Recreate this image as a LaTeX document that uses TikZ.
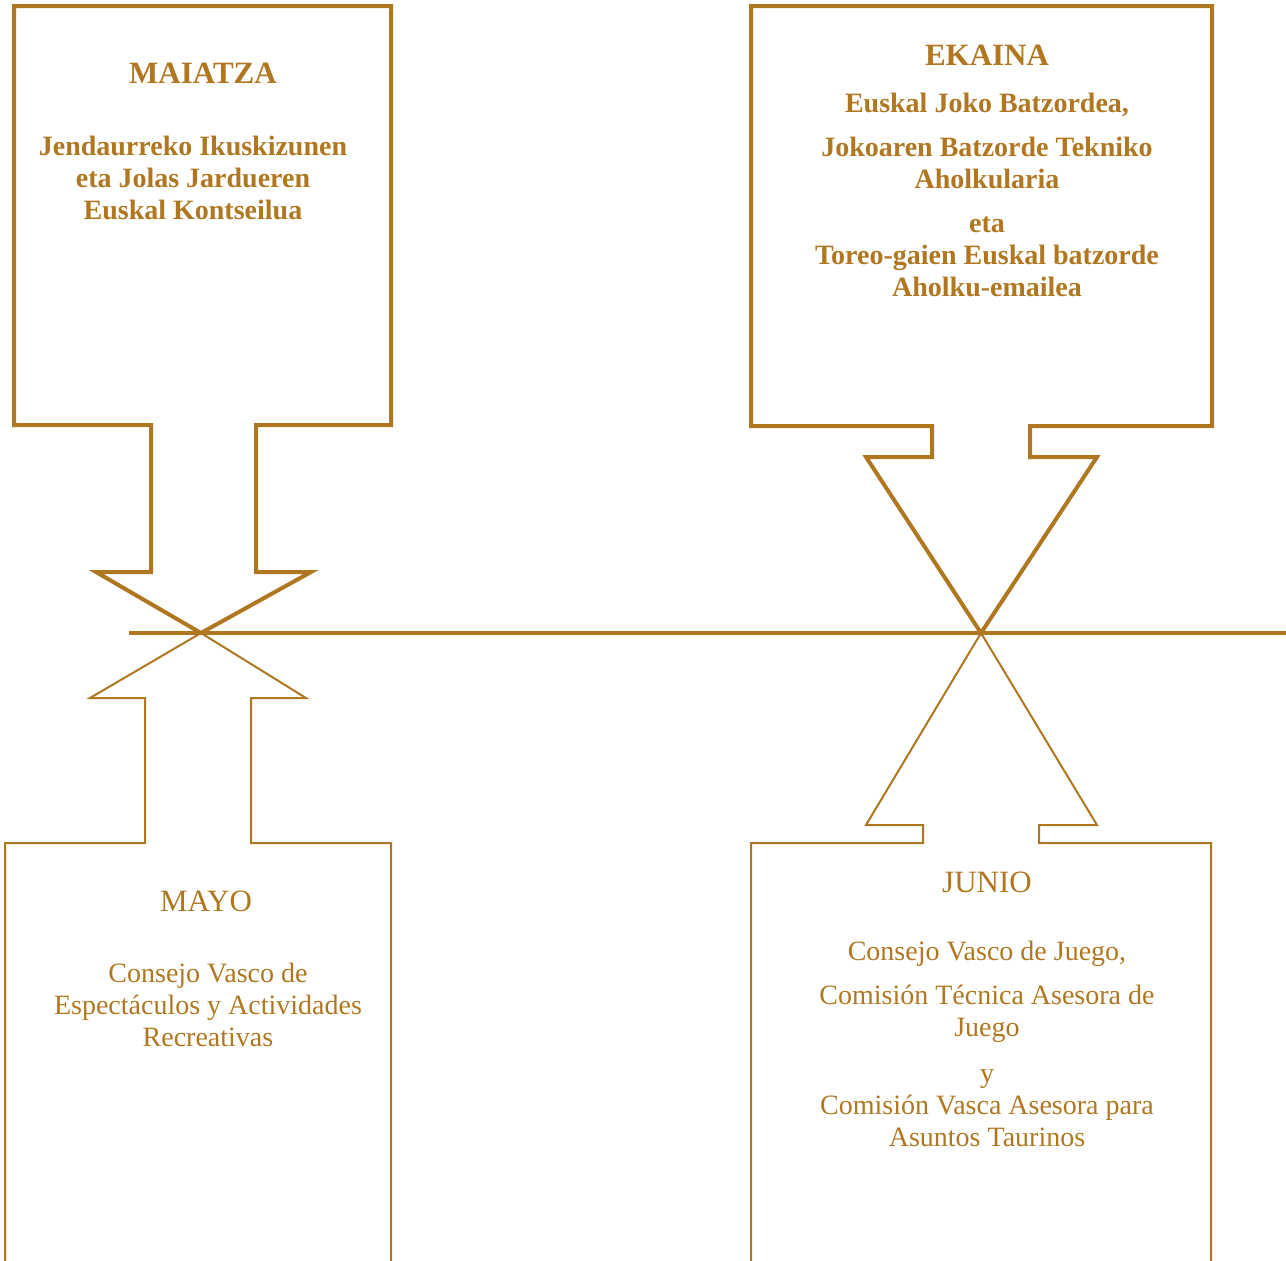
\documentclass[tikz,border=0pt]{standalone}
\usepackage{fontspec}
\setmainfont{Liberation Serif}
\definecolor{ochre}{RGB}{176,119,32}

\begin{document}
\begin{tikzpicture}[x=1pt, y=-1pt,
    heavy/.style={draw=ochre, line width=4pt},
    light/.style={draw=ochre, line width=2pt},
    head/.style={text=ochre, anchor=base, inner sep=0pt, font=\fontsize{31}{36}\selectfont},
    body/.style={text=ochre, anchor=base, inner sep=0pt, align=center, font=\fontsize{28}{32}\selectfont}]
    \useasboundingbox (0,0) rectangle (1286,1261);

    \coordinate (tipL) at (201,633);
    \coordinate (tipR) at (981,633);
    \coordinate (lineStart) at (129,633);
    \coordinate (lineEnd) at (1286,633);

    % basque boxes, top
    \draw [heavy] (151,425) -- (14,425) -- (14,6) -- (391,6) -- (391,425) -- (256,425) -- (256,572) -- (311,572)
        -- (tipL) -- (96,572) -- (151,572) -- cycle;
    \draw [heavy] (932,426) -- (751,426) -- (751,6) -- (1212,6) -- (1212,426) -- (1030,426) -- (1030,457) -- (1097,457)
        -- (tipR) -- (866,457) -- (932,457) -- cycle;

    % spanish boxes, bottom
    \draw [light] (5,1263) -- (5,843) -- (145,843) -- (145,698) -- (90,698) -- (tipL) -- (306,698) -- (251,698)
        -- (251,843) -- (391,843) -- (391,1263);
    \draw [light] (751,1263) -- (751,843) -- (923,843) -- (923,825) -- (866,825) -- (tipR) -- (1097,825) -- (1039,825)
        -- (1039,843) -- (1211,843) -- (1211,1263);

    \draw [heavy] (lineStart) -- (lineEnd);

    % texts (multi-line nodes sit on their last baseline)
    \node [head, font=\fontsize{31}{36}\selectfont\bfseries] (maiatza) at (203,83) {MAIATZA};
    \node [body, font=\fontsize{28}{32}\selectfont\bfseries] (maiatzaText) at (193,219)
        {Jendaurreko Ikuskizunen\\eta Jolas Jardueren\\Euskal Kontseilua};

    \node [head, font=\fontsize{31}{36}\selectfont\bfseries] (ekaina) at (987,65) {EKAINA};
    \node [body, font=\fontsize{28}{32}\selectfont\bfseries] (ekainaText) at (987,296)
        {Euskal Joko Batzordea,\\[12pt]Jokoaren Batzorde Tekniko\\Aholkularia\\[12pt]eta\\Toreo-gaien Euskal batzorde\\Aholku-emailea};

    \node [head] (mayo) at (206,911) {MAYO};
    \node [body] (mayoText) at (208,1046)
        {Consejo Vasco de\\Espectáculos y Actividades\\Recreativas};

    \node [head] (junio) at (987,892) {JUNIO};
    \node [body] (junioText) at (987,1146)
        {Consejo Vasco de Juego,\\[12pt]Comisión Técnica Asesora de\\Juego\\[14pt]y\\Comisión Vasca Asesora para\\Asuntos Taurinos};
\end{tikzpicture}
\end{document}
